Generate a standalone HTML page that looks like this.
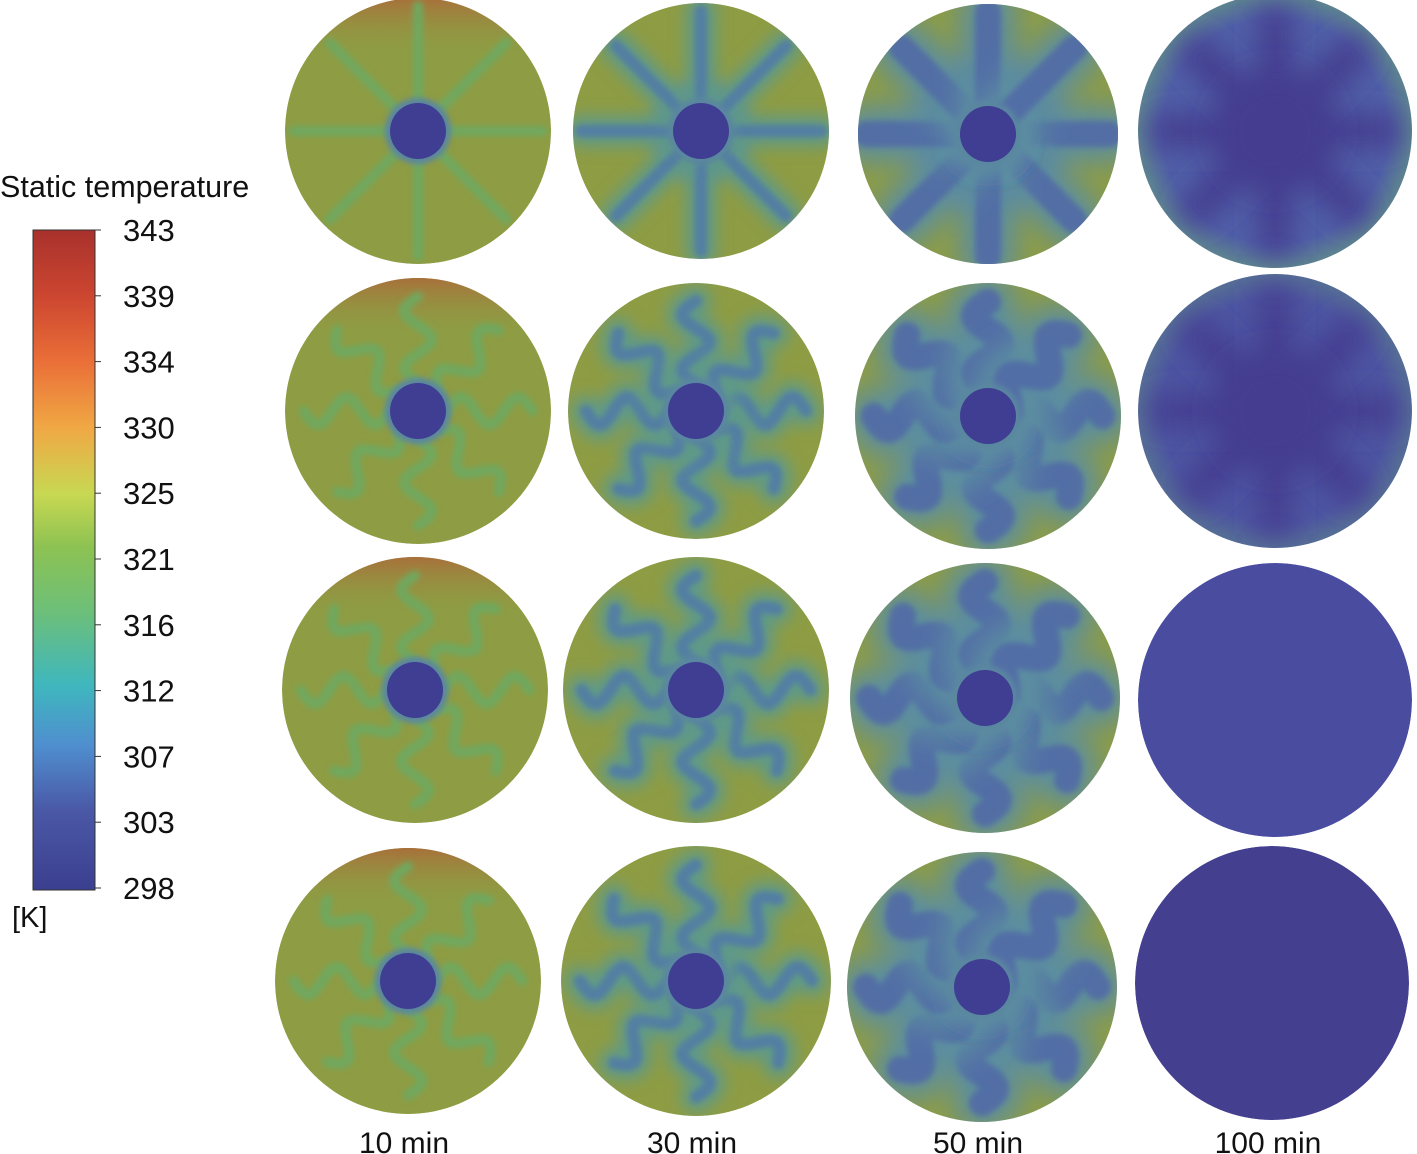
<!DOCTYPE html>
<html><head><meta charset="utf-8"><style>
body{margin:0;background:#fff;width:1417px;height:1154px;overflow:hidden;font-family:"Liberation Sans",sans-serif}
svg{position:absolute;left:0;top:0}
</style></head><body>
<svg id="s" width="1417" height="1154">
<defs>
<linearGradient id="cbar" x1="0" y1="1" x2="0" y2="0">
<stop offset="0" stop-color="#3b3f8f"/><stop offset="0.12" stop-color="#4a58a6"/><stop offset="0.22" stop-color="#4f8fcf"/><stop offset="0.31" stop-color="#3fb7be"/><stop offset="0.42" stop-color="#6cbf7a"/><stop offset="0.52" stop-color="#8dc252"/><stop offset="0.6" stop-color="#c8d852"/><stop offset="0.7" stop-color="#f0a844"/><stop offset="0.8" stop-color="#ea6f38"/><stop offset="0.9" stop-color="#cc4630"/><stop offset="1" stop-color="#a8312c"/>
</linearGradient>
<linearGradient id="hot" x1="0" y1="0" x2="0" y2="1">
<stop offset="0" stop-color="#a8703a"/><stop offset="0.12" stop-color="#9a8a40" stop-opacity="0.5"/><stop offset="0.22" stop-color="#8f9c44" stop-opacity="0"/>
</linearGradient>
<radialGradient id="edge" cx="0.5" cy="0.5" r="0.5">
<stop offset="0.82" stop-color="#6aa070" stop-opacity="0"/><stop offset="1" stop-color="#6aa878" stop-opacity="0.5"/>
</radialGradient>
<filter id="b3" filterUnits="userSpaceOnUse" x="0" y="0" width="1417" height="1154"><feGaussianBlur stdDeviation="3"/></filter>
<filter id="b8" filterUnits="userSpaceOnUse" x="0" y="0" width="1417" height="1154"><feGaussianBlur stdDeviation="8"/></filter>
<filter id="b14" filterUnits="userSpaceOnUse" x="0" y="0" width="1417" height="1154"><feGaussianBlur stdDeviation="14"/></filter>
</defs>
</svg>
<script>
const tickLabels=["343","339","334","330","325","321","316","312","307","303","298"];
const timeLabels=["10 min","30 min","50 min","100 min"];
const disks=[
[[418,131,133],[701,131,128],[988,134,130],[1275,131,137]],
[[418,411,133],[696,411,128],[988,416,133],[1275,411,137]],
[[415,690,133],[696,690,133],[985,698,135],[1275,700,137]],
[[408,981,133],[696,981,135],[982,987,135],[1272,983,137]]];
const NS="http://www.w3.org/2000/svg";
const s=document.getElementById('s');
function el(t,a,p){const e=document.createElementNS(NS,t);for(const k in a)e.setAttribute(k,a[k]);(p||s).appendChild(e);return e;}
const cb=el('rect',{x:33,y:230,width:62,height:660,fill:'url(#cbar)',stroke:'#333','stroke-width':1});


const tt=el('text',{x:0,y:197,'font-size':30.5,fill:'#111'});tt.textContent='Static temperature';


tickLabels.forEach((l,i)=>{const y=230+i*65.8;
el('line',{x1:95,x2:101,y1:y,y2:y,stroke:'#333'});
const t=el('text',{x:123,y:y+11,'font-size':31,fill:'#111'});t.textContent=l;

});
const u=el('text',{x:12,y:927,'font-size':29,fill:'#111'});u.textContent='[K]';


timeLabels.forEach((l,i)=>{const t=el('text',{x:disks[3][i][0]-4,y:1153,'font-size':30,fill:'#111','text-anchor':'middle'});t.textContent=l;

});
function finPath(cx,cy,r0,r1,ang,wavy){let d='';const n=30;
for(let k=0;k<=n;k++){const t=r0+(r1-r0)*k/n;const off=wavy?Math.sin(k/n*Math.PI*4)*14*(k/n>0.15?1:k/n/0.15):0;
const x=cx+Math.cos(ang)*t-Math.sin(ang)*off,y=cy+Math.sin(ang)*t+Math.cos(ang)*off;d+=(k?'L':'M')+x.toFixed(1)+','+y.toFixed(1);}return d;}
disks.forEach((row,ri)=>row.forEach(([cx,cy,r],ci)=>{
const g=el('g',{});


const id='c'+ri+ci;const cp=el('clipPath',{id:id},g);el('circle',{cx,cy,r},cp);
const inner=el('g',{'clip-path':'url(#'+id+')'},g);
const wavy=ri>0;
if(ci<3){
el('circle',{cx,cy,r,fill:'#8e9c43'},inner);
if(ci==0)el('rect',{x:cx-r,y:cy-r,width:2*r,height:2*r,fill:'url(#hot)'},inner);
const lw=[[10,'#6fa85e','b3',0,''],[30,'#5e9a88','b8',12,'#5078aa'],[55,'#5b8ea0','b14',26,'#4f66a8']][ci];
if(ci==2)el('circle',{cx,cy,r:75,fill:'#5a7fa8',filter:'url(#b14)'},inner);
if(ci==1)el('circle',{cx,cy,r:50,fill:'#5b8f98',filter:'url(#b8)'},inner);
const len=wavy?0.86:0.94;
for(let k=0;k<8;k++){const a=k*Math.PI/4;const d=finPath(cx,cy,0,r*len,a,wavy);
el('path',{d,fill:'none',stroke:lw[1],'stroke-width':lw[0],'stroke-linecap':'round',filter:'url(#'+lw[2]+')'},inner);
if(lw[3])el('path',{d,fill:'none',stroke:lw[4],'stroke-width':lw[3],'stroke-linecap':'round',filter:'url(#b3)','stroke-opacity':0.8},inner);}
el('circle',{cx,cy,r:33,fill:'#5a86a0',filter:'url(#b3)'},inner);
el('circle',{cx,cy,r:28,fill:'#3f3e92'},inner);
}else{
const base=['#5060a8','#4d56a2','#4a4ca0','#453f90'][ri];
el('circle',{cx,cy,r,fill:base},inner);
if(ri<2){el('circle',{cx,cy,r,fill:'url(#edge)',opacity:ri==0?1:0.6},inner);
for(let k=0;k<8;k++){const a=k*Math.PI/4;el('path',{d:finPath(cx,cy,0,r*0.9,a,false),stroke:'#443e90','stroke-width':34,fill:'none',filter:'url(#b14)'},inner);}
el('circle',{cx,cy,r:60,fill:'#443e90',filter:'url(#b14)'},inner);}
}
}));
</script>
</body></html>
